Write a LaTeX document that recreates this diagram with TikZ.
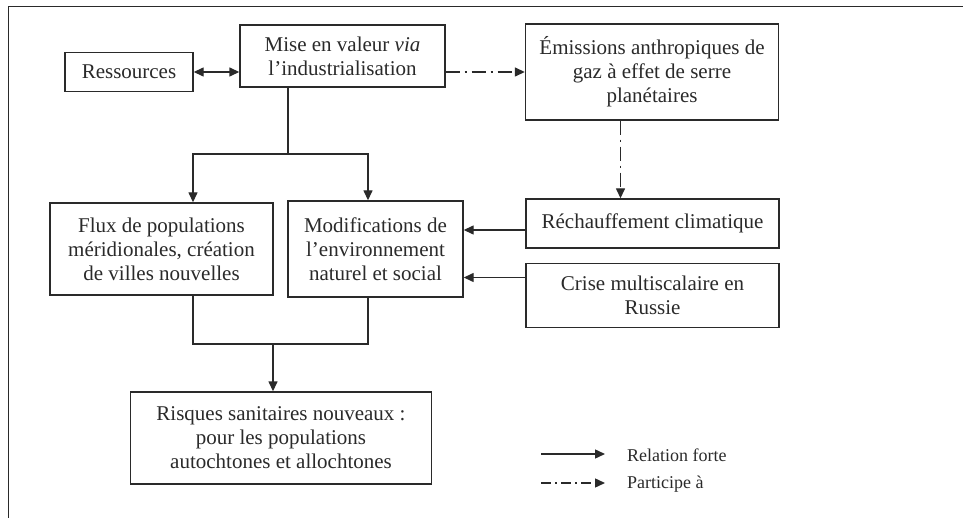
\documentclass[tikz,border=0pt]{standalone}
\usepackage{fontspec}
\setmainfont{Liberation Serif}
\usetikzlibrary{arrows.meta}
\definecolor{ink}{HTML}{2A2A2A}
\begin{document}
\begin{tikzpicture}[x=1pt,y=-1pt,
  box/.style={draw=ink, line width=1.4pt, fill=white, align=center, inner sep=0pt,
    font=\fontsize{21}{24}\selectfont, text=ink},
  plain/.style={draw=ink, line width=1.4pt},
  link/.style={plain, -{Triangle[length=10pt,width=9pt]}},
  both/.style={plain, {Triangle[length=10pt,width=9pt]}-{Triangle[length=10pt,width=9pt]}},
  dashdotline/.style={dash pattern=on 14pt off 5pt on 2pt off 5pt},
  legdash/.style={dash pattern=on 10pt off 4pt on 2pt off 4pt},
  legtext/.style={font=\fontsize{18}{21}\selectfont, text=ink, anchor=west, inner sep=0pt}]
\useasboundingbox (0,0) rectangle (963,518);
% outer frame (cropped)
\draw[plain] (8.5,518) -- (8.5,6.5) -- (963,6.5);

% boxes
\node[box, minimum width=128pt, minimum height=39pt] (res) at (129,72) {Ressources};
\node[box, minimum width=205pt, minimum height=62pt] (mise) at (342.5,56) {Mise en valeur \textit{via}\\l’industrialisation};
\node[box, minimum width=253pt, minimum height=96pt] (emis) at (652,72) {Émissions anthropiques de\\gaz à effet de serre\\planétaires};
\node[box, minimum width=223pt, minimum height=92pt] (flux) at (161.5,249) {Flux de populations\\méridionales, création\\de villes nouvelles};
\node[box, minimum width=175pt, minimum height=96pt] (modif) at (375.5,249) {Modifications de\\l’environnement\\naturel et social};
\node[box, minimum width=253pt, minimum height=49pt] (rech) at (652.5,223.5) {Réchauffement climatique};
\node[box, minimum width=253pt, minimum height=64pt] (crise) at (652.5,295.5) {Crise multiscalaire en\\Russie};
\node[box, minimum width=301pt, minimum height=92pt] (risk) at (281,438) {Risques sanitaires nouveaux :\\pour les populations\\autochtones et allochtones};

% connectors
\draw[both] (res.east) -- (res.east -| mise.west);
\draw[link, dashdotline] (mise.east |- emis.west) -- (emis.west);

\coordinate (j) at (288,154);
\coordinate (jf) at (193,154);
\coordinate (jm) at (368,154);
\draw[plain] (mise.south -| j) -- (j);
\draw[link] (j) -- (jf) -- (jf |- flux.north);
\draw[link] (j) -- (jm) -- (jm |- modif.north);

\coordinate (de) at (620.5,0);
\draw[link, dashdotline] (emis.south -| de) -- (rech.north -| de);

\draw[link] ([yshift=-6.5pt]rech.west) -- ([yshift=-6.5pt]rech.west -| modif.east);
\draw[link] ([yshift=18pt]crise.west) -- ([yshift=18pt]crise.west -| modif.east);

\coordinate (bf) at (193,344);
\coordinate (bm) at (368,344);
\coordinate (bj) at (273,344);
\draw[plain] (flux.south -| bf) -- (bf) -- (bm) -- (modif.south -| bm);
\draw[link] (bj) -- (bj |- risk.north);

% legend
\coordinate (l1a) at (541,454);
\coordinate (l1b) at (605,454);
\coordinate (l2a) at (541,483);
\coordinate (l2b) at (605,483);
\draw[link] (l1a) -- (l1b);
\draw[link, legdash] (l2a) -- (l2b);
\node[legtext] (lt1) at (627,455) {Relation forte};
\node[legtext] (lt2) at (627,484) {Participe à};
\end{tikzpicture}
\end{document}
